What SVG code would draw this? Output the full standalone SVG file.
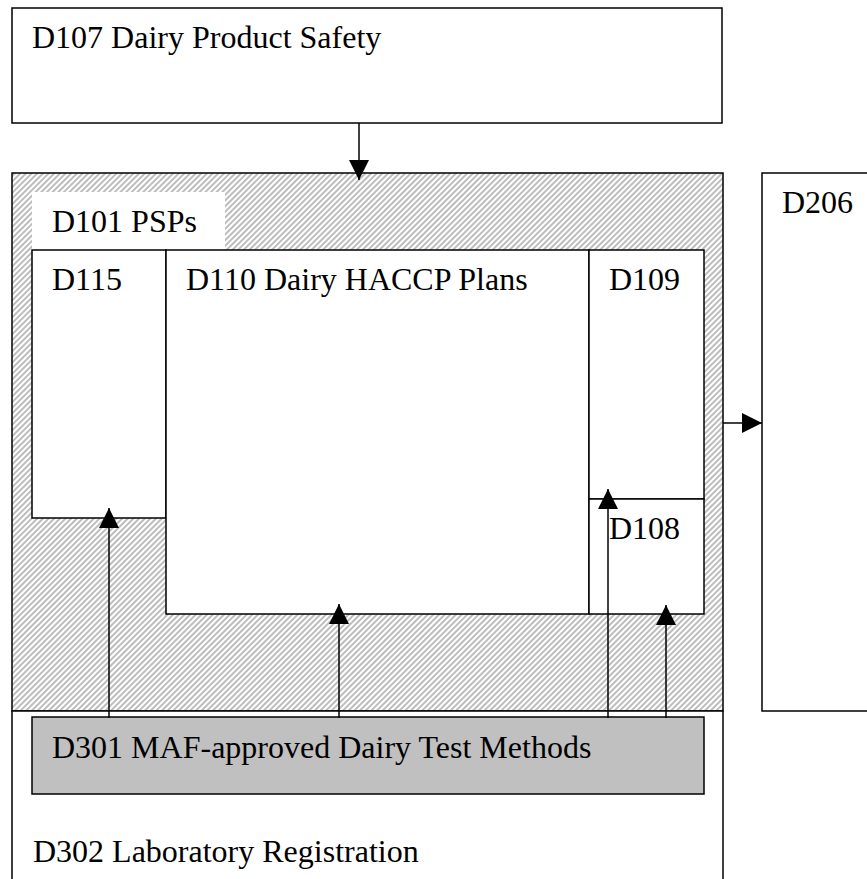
<svg xmlns="http://www.w3.org/2000/svg" width="867" height="879" viewBox="0 0 867 879">
<style>
.box{fill:#fff;stroke:#000;stroke-width:1.5}
.hatch{fill:url(#hatch);stroke:#000;stroke-width:1.5}
.grey{fill:#c0c0c0;stroke:#000;stroke-width:1.5}
.label{fill:#fff;stroke:none}
.t{font-family:"Liberation Serif","Times New Roman",serif;font-size:32px;fill:#000}
.conn{stroke:#000;stroke-width:1.5;fill:none;marker-end:url(#ah)}
</style>
<defs>
<pattern id="hatch" width="4" height="4" patternUnits="userSpaceOnUse" patternTransform="rotate(45)">
<rect width="4" height="4" fill="#fff"/>
<rect width="2" height="4" fill="#bdbdbd"/>
</pattern>
<marker id="ah" viewBox="0 0 20 20" refX="20" refY="10" markerWidth="20" markerHeight="20" markerUnits="userSpaceOnUse" orient="auto">
<path d="M0,0 L20,10 L0,20 z" fill="#000"/>
</marker>
</defs>
<g id="D107">
<rect class="box" x="12" y="8" width="710" height="115"/>
<text class="t" x="32" y="48">D107 Dairy Product Safety</text>
</g>
<g id="D101">
<rect class="hatch" x="12" y="173" width="711" height="538"/>
<rect class="label" x="32" y="192" width="193" height="58"/>
<text class="t" x="52" y="232">D101 PSPs</text>
</g>
<g id="D115">
<rect class="box" x="32" y="250" width="134" height="268"/>
<text class="t" x="52" y="290">D115</text>
</g>
<g id="D110">
<rect class="box" x="166" y="250" width="423" height="364"/>
<text class="t" x="186" y="290">D110 Dairy HACCP Plans</text>
</g>
<g id="D109">
<rect class="box" x="589" y="250" width="115" height="249"/>
<text class="t" x="609" y="290">D109</text>
</g>
<g id="D108">
<rect class="box" x="589" y="499" width="115" height="115"/>
<text class="t" x="609" y="539">D108</text>
</g>
<g id="D206">
<rect class="box" x="762" y="173" width="110" height="538"/>
<text class="t" x="782" y="213">D206</text>
</g>
<g id="D302">
<rect class="box" x="12" y="711" width="711" height="180"/>
<text class="t" x="33" y="862">D302 Laboratory Registration</text>
</g>
<g id="D301">
<rect class="grey" x="32" y="717" width="672" height="77"/>
<text class="t" x="52" y="758">D301 MAF-approved Dairy Test Methods</text>
</g>
<g id="connectors">
<path class="conn" d="M359,123 V180"/>
<path class="conn" d="M723,423 H762"/>
<path class="conn" d="M109,718 V508"/>
<path class="conn" d="M339,718 V604"/>
<path class="conn" d="M608,718 V489"/>
<path class="conn" d="M666,718 V605"/>
</g>
</svg>
